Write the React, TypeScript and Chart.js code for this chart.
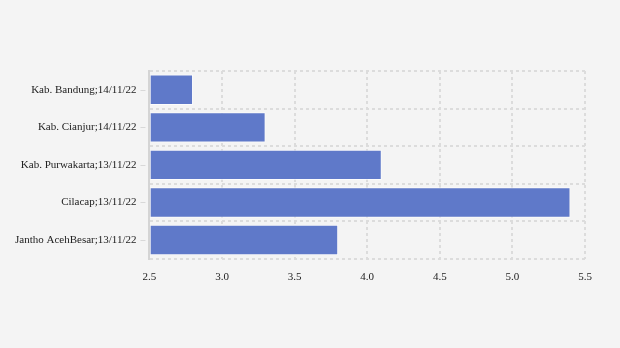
import React, { useEffect, useRef } from "react";
import { Chart, registerables } from "chart.js";

Chart.register(...registerables);

const categories = [
  "Kab. Bandung;14/11/22",
  "Kab. Cianjur;14/11/22",
  "Kab. Purwakarta;13/11/22",
  "Cilacap;13/11/22",
  "Jantho AcehBesar;13/11/22",
];
const values = [2.8, 3.3, 4.1, 5.4, 3.8];
const xMin = 2.5;
const xMax = 5.5;
const xStep = 0.5;

const tickMarks = {
  id: "tickMarks",
  afterDraw(chart: any) {
    const y = chart.scales.y;
    const ctx = chart.ctx;
    ctx.save();
    ctx.strokeStyle = "#d8d8d8";
    ctx.lineWidth = 1;
    for (let i = 0; i < categories.length; i++) {
      const py = Math.round(y.getPixelForValue(i)) + 0.5;
      ctx.beginPath();
      ctx.moveTo(y.right - 9, py);
      ctx.lineTo(y.right - 4, py);
      ctx.stroke();
    }
    ctx.restore();
  },
};

const FONT = "'Liberation Serif', 'Times New Roman', serif";

export default function App() {
  const ref = useRef<HTMLCanvasElement | null>(null);
  useEffect(() => {
    if (!ref.current) return;
    const chart = new Chart(ref.current, {
      type: "bar",
      data: {
        labels: categories,
        datasets: [
          {
            data: values,
            backgroundColor: "#5f79c9",
            borderColor: "rgba(255,255,255,0.7)",
            borderWidth: 1,
            categoryPercentage: 0.9,
            barPercentage: 0.9,
            base: xMin,
          },
        ],
      },
      plugins: [tickMarks],
      options: {
        indexAxis: "y",
        animation: false,
        responsive: false,
        maintainAspectRatio: false,
        layout: { padding: { top: 71, right: 35, bottom: 52, left: 2 } },
        plugins: { legend: { display: false }, tooltip: { enabled: false } },
        scales: {
          x: {
            type: "linear",
            min: xMin,
            max: xMax,
            ticks: {
              stepSize: xStep,
              padding: 12,
              color: "#222",
              font: { family: FONT, size: 11 },
              callback: (v: any) => Number(v).toFixed(1),
            },
            grid: { color: "#dcdcdc", lineWidth: 2, drawTicks: false },
            border: { display: false, dash: [3, 3] },
          },
          y: {
            type: "category",
            ticks: {
              padding: 13,
              color: "#222",
              font: { family: FONT, size: 11 },
            },
            grid: { offset: true, color: "#dcdcdc", lineWidth: 2, drawTicks: false },
            border: { display: true, color: "#d4d4d4", width: 2, dash: [3, 3] },
          },
        },
      },
    });
    return () => chart.destroy();
  }, []);
  return (
    <div style={{ position: "fixed", left: 0, top: 0, width: 620, height: 348, background: "#f4f4f4" }}>
      <canvas ref={ref} width={620} height={348} style={{ display: "block" }} />
    </div>
  );
}
